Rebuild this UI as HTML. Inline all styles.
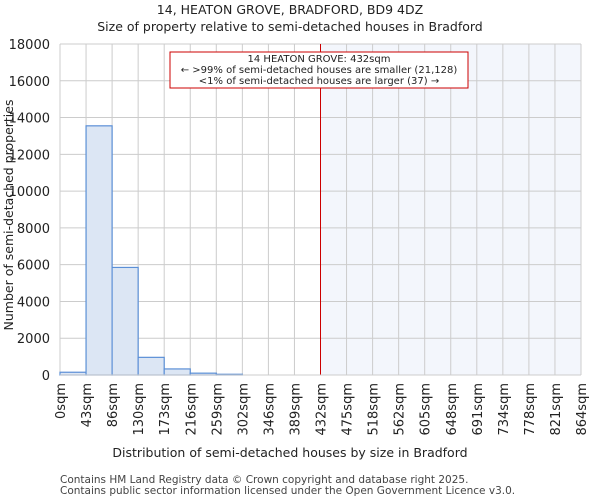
<!DOCTYPE html>
<html><head><meta charset="utf-8"><style>
body{margin:0;background:#fff;font-family:"DejaVu Sans","Liberation Sans",sans-serif;}
</style></head><body>
<svg id="chart" width="600" height="500" xmlns="http://www.w3.org/2000/svg" font-family="DejaVu Sans, Liberation Sans, sans-serif">
<text x="290" y="14" text-anchor="middle" font-size="12.5" fill="#222">14, HEATON GROVE, BRADFORD, BD9 4DZ</text>
<text x="290" y="31" text-anchor="middle" font-size="12.5" fill="#222">Size of property relative to semi-detached houses in Bradford</text>
<g id="grid"></g>
<g id="bars"></g>
<g id="axes"></g>
<text x="290" y="457" text-anchor="middle" font-size="12.5" fill="#222">Distribution of semi-detached houses by size in Bradford</text>
<text transform="translate(13,215) rotate(-90)" text-anchor="middle" font-size="12.5" fill="#222">Number of semi-detached properties</text>
<text x="60" y="483" font-size="10.5" fill="#444">Contains HM Land Registry data © Crown copyright and database right 2025.</text>
<text x="60" y="494" font-size="10.5" fill="#444">Contains public sector information licensed under the Open Government Licence v3.0.</text>
</svg>
<script>
const categories=["0sqm","43sqm","86sqm","130sqm","173sqm","216sqm","259sqm","302sqm","346sqm","389sqm","432sqm","475sqm","518sqm","562sqm","605sqm","648sqm","691sqm","734sqm","778sqm","821sqm","864sqm"];
const counts=[150,13550,5850,960,330,100,40,0,0,0,0,0,0,0,0,0,0,0,0,0];
const yTicks=[0,2000,4000,6000,8000,10000,12000,14000,16000,18000];
const propertyBin=10;
const NS="http://www.w3.org/2000/svg";
const L=60,R=581,T=44,B=375,yMax=18000;
const bw=(R-L)/counts.length;
const xs=i=>L+i*bw;
const ys=v=>B-(v/yMax)*(B-T);
function mk(tag,attrs,parent){const e=document.createElementNS(NS,tag);for(const k in attrs)e.setAttribute(k,attrs[k]);parent.appendChild(e);return e;}
const grid=document.getElementById('grid'),bars=document.getElementById('bars'),axes=document.getElementById('axes');
const sh=mk('rect',{x:xs(propertyBin),y:T,width:R-xs(propertyBin),height:B-T,fill:"#f3f6fc"},grid);


yTicks.forEach(v=>{
 const l=mk('line',{x1:L,x2:R,y1:ys(v),y2:ys(v),stroke:"#cccccc","stroke-width":1},grid);
 
 
 const t=mk('text',{x:L-10,y:ys(v)+5,"text-anchor":"end","font-size":"13",fill:"#222"},axes);
 t.textContent=v;
 
 
});
categories.forEach((c,i)=>{
 const x=xs(i);
 const l=mk('line',{x1:x,x2:x,y1:T,y2:B,stroke:"#cccccc","stroke-width":1},grid);
 
 
 const t=mk('text',{transform:`translate(${x+5},${B+8}) rotate(-90)`,"text-anchor":"end","font-size":"13",fill:"#222"},axes);
 t.textContent=c;
 
 
});
counts.forEach((v,i)=>{
 if(v<=0)return;
 const r=mk('rect',{x:xs(i),y:ys(v),width:bw,height:B-ys(v),fill:"#dce6f4",stroke:"#5b8fd6","stroke-width":1.2},bars);
 
 
});
const bl=mk('line',{x1:L,x2:R,y1:B,y2:B,stroke:"#cccccc"},axes);


const pl=mk('line',{x1:xs(propertyBin),x2:xs(propertyBin),y1:T,y2:B,stroke:"#cc0000","stroke-width":1},bars);


const g=mk('g',{},axes);


mk('rect',{x:170,y:52,width:298,height:36,fill:"#fff",stroke:"#cc0000","stroke-width":1},g);
["14 HEATON GROVE: 432sqm","← >99% of semi-detached houses are smaller (21,128)","<1% of semi-detached houses are larger (37) →"].forEach((s,i)=>{
 const t=mk('text',{x:319,y:62+i*11,"text-anchor":"middle","font-size":"10","font-family":"DejaVu Sans",fill:"#222"},g);
 t.textContent=s;
 
 
});
</script>
</body></html>
